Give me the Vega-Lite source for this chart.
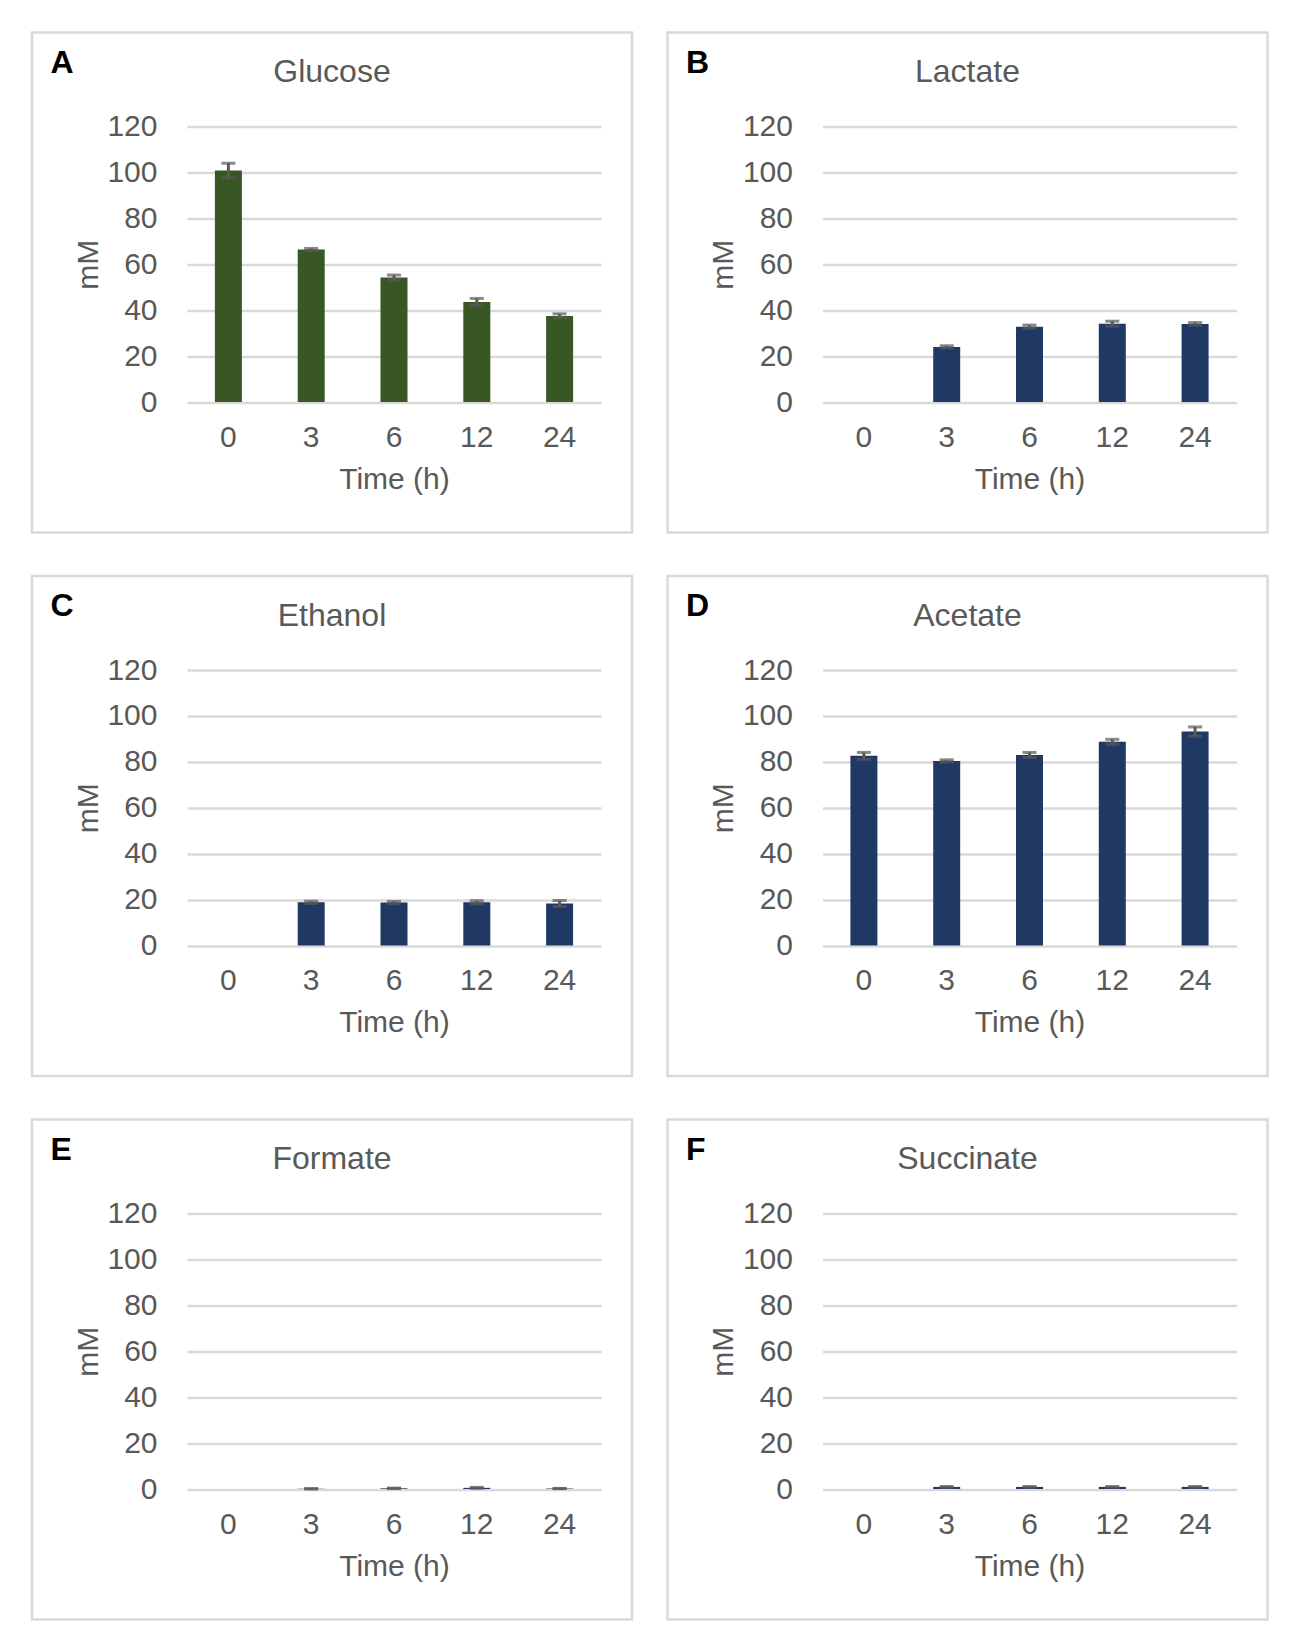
{
  "$schema": "https://vega.github.io/schema/vega-lite/v6.json",
  "background": "white",
  "padding": {"left": 30, "top": 30.5, "right": 0, "bottom": 0},
  "datasets": {
    "metabolites": [
      {"compound": "Glucose", "time": "0", "mean": 100.8, "sd": 3.2},
      {"compound": "Glucose", "time": "3", "mean": 66.4, "sd": 0.5},
      {"compound": "Glucose", "time": "6", "mean": 54.2, "sd": 1.1},
      {"compound": "Glucose", "time": "12", "mean": 43.6, "sd": 1.5},
      {"compound": "Glucose", "time": "24", "mean": 37.5, "sd": 0.9},
      {"compound": "Lactate", "time": "3", "mean": 24.0, "sd": 0.5},
      {"compound": "Lactate", "time": "6", "mean": 32.8, "sd": 0.7},
      {"compound": "Lactate", "time": "12", "mean": 34.1, "sd": 1.1},
      {"compound": "Lactate", "time": "24", "mean": 34.0, "sd": 0.6},
      {"compound": "Ethanol", "time": "3", "mean": 18.8, "sd": 0.5},
      {"compound": "Ethanol", "time": "6", "mean": 18.7, "sd": 0.5},
      {"compound": "Ethanol", "time": "12", "mean": 18.8, "sd": 0.7},
      {"compound": "Ethanol", "time": "24", "mean": 18.3, "sd": 1.3},
      {"compound": "Acetate", "time": "0", "mean": 82.6, "sd": 1.5},
      {"compound": "Acetate", "time": "3", "mean": 80.4, "sd": 0.5},
      {"compound": "Acetate", "time": "6", "mean": 83.0, "sd": 1.1},
      {"compound": "Acetate", "time": "12", "mean": 88.7, "sd": 1.1},
      {"compound": "Acetate", "time": "24", "mean": 93.2, "sd": 2.0},
      {"compound": "Formate", "time": "3", "mean": 0.1, "sd": 0.05},
      {"compound": "Formate", "time": "6", "mean": 0.3, "sd": 0.1},
      {"compound": "Formate", "time": "12", "mean": 0.5, "sd": 0.2},
      {"compound": "Formate", "time": "24", "mean": 0.2, "sd": 0.05},
      {"compound": "Succinate", "time": "3", "mean": 0.9, "sd": 0.2},
      {"compound": "Succinate", "time": "6", "mean": 0.9, "sd": 0.2},
      {"compound": "Succinate", "time": "12", "mean": 0.9, "sd": 0.2},
      {"compound": "Succinate", "time": "24", "mean": 0.9, "sd": 0.2}
    ]
  },
  "data": {"name": "metabolites"},
  "columns": 2,
  "spacing": {"row": 39.5, "column": 31.5},
  "concat": [
    {
      "width": 600, "height": 500,
      "title": {"text": "Glucose"},
      "transform": [{"filter": "datum.compound === 'Glucose'"}],
      "encoding": {
        "x": {"field": "time", "type": "ordinal", "scale": {"domain": ["0", "3", "6", "12", "24"], "range": [155, 569], "paddingInner": 0.674, "paddingOuter": 0.337}}
      },
      "layer": [
        {"mark": {"type": "bar", "color": "#385723"},
         "encoding": {"x": {"field": "time", "type": "ordinal", "axis": {"orient": "bottom", "title": "Time (h)"}},
                      "y": {"field": "mean", "type": "quantitative", "scale": {"domain": [0, 120], "range": [369.5, 94], "nice": false}, "axis": {"title": "mM", "values": [0, 20, 40, 60, 80, 100, 120]}}}},
        {"mark": {"type": "errorbar", "color": "#595959", "thickness": 3, "size": 14, "ticks": true},
         "encoding": {"x": {"field": "time", "type": "ordinal", "axis": {"orient": "top", "title": "A"}},
                      "y": {"field": "mean", "type": "quantitative", "axis": null},
                      "yError": {"field": "sd"}}}
      ],
      "resolve": {"axis": {"x": "independent", "y": "independent"}}
    },
    {
      "width": 600, "height": 500,
      "title": {"text": "Lactate"},
      "transform": [{"filter": "datum.compound === 'Lactate'"}],
      "encoding": {
        "x": {"field": "time", "type": "ordinal", "scale": {"domain": ["0", "3", "6", "12", "24"], "range": [155, 569], "paddingInner": 0.674, "paddingOuter": 0.337}}
      },
      "layer": [
        {"mark": {"type": "bar", "color": "#203864"},
         "encoding": {"x": {"field": "time", "type": "ordinal", "axis": {"orient": "bottom", "title": "Time (h)"}},
                      "y": {"field": "mean", "type": "quantitative", "scale": {"domain": [0, 120], "range": [369.5, 94], "nice": false}, "axis": {"title": "mM", "values": [0, 20, 40, 60, 80, 100, 120]}}}},
        {"mark": {"type": "errorbar", "color": "#595959", "thickness": 3, "size": 14, "ticks": true},
         "encoding": {"x": {"field": "time", "type": "ordinal", "axis": {"orient": "top", "title": "B"}},
                      "y": {"field": "mean", "type": "quantitative", "axis": null},
                      "yError": {"field": "sd"}}}
      ],
      "resolve": {"axis": {"x": "independent", "y": "independent"}}
    },
    {
      "width": 600, "height": 500,
      "title": {"text": "Ethanol"},
      "transform": [{"filter": "datum.compound === 'Ethanol'"}],
      "encoding": {
        "x": {"field": "time", "type": "ordinal", "scale": {"domain": ["0", "3", "6", "12", "24"], "range": [155, 569], "paddingInner": 0.674, "paddingOuter": 0.337}}
      },
      "layer": [
        {"mark": {"type": "bar", "color": "#203864"},
         "encoding": {"x": {"field": "time", "type": "ordinal", "axis": {"orient": "bottom", "title": "Time (h)"}},
                      "y": {"field": "mean", "type": "quantitative", "scale": {"domain": [0, 120], "range": [369.5, 94], "nice": false}, "axis": {"title": "mM", "values": [0, 20, 40, 60, 80, 100, 120]}}}},
        {"mark": {"type": "errorbar", "color": "#595959", "thickness": 3, "size": 14, "ticks": true},
         "encoding": {"x": {"field": "time", "type": "ordinal", "axis": {"orient": "top", "title": "C"}},
                      "y": {"field": "mean", "type": "quantitative", "axis": null},
                      "yError": {"field": "sd"}}}
      ],
      "resolve": {"axis": {"x": "independent", "y": "independent"}}
    },
    {
      "width": 600, "height": 500,
      "title": {"text": "Acetate"},
      "transform": [{"filter": "datum.compound === 'Acetate'"}],
      "encoding": {
        "x": {"field": "time", "type": "ordinal", "scale": {"domain": ["0", "3", "6", "12", "24"], "range": [155, 569], "paddingInner": 0.674, "paddingOuter": 0.337}}
      },
      "layer": [
        {"mark": {"type": "bar", "color": "#203864"},
         "encoding": {"x": {"field": "time", "type": "ordinal", "axis": {"orient": "bottom", "title": "Time (h)"}},
                      "y": {"field": "mean", "type": "quantitative", "scale": {"domain": [0, 120], "range": [369.5, 94], "nice": false}, "axis": {"title": "mM", "values": [0, 20, 40, 60, 80, 100, 120]}}}},
        {"mark": {"type": "errorbar", "color": "#595959", "thickness": 3, "size": 14, "ticks": true},
         "encoding": {"x": {"field": "time", "type": "ordinal", "axis": {"orient": "top", "title": "D"}},
                      "y": {"field": "mean", "type": "quantitative", "axis": null},
                      "yError": {"field": "sd"}}}
      ],
      "resolve": {"axis": {"x": "independent", "y": "independent"}}
    },
    {
      "width": 600, "height": 500,
      "title": {"text": "Formate"},
      "transform": [{"filter": "datum.compound === 'Formate'"}],
      "encoding": {
        "x": {"field": "time", "type": "ordinal", "scale": {"domain": ["0", "3", "6", "12", "24"], "range": [155, 569], "paddingInner": 0.674, "paddingOuter": 0.337}}
      },
      "layer": [
        {"mark": {"type": "bar", "color": "#203864"},
         "encoding": {"x": {"field": "time", "type": "ordinal", "axis": {"orient": "bottom", "title": "Time (h)"}},
                      "y": {"field": "mean", "type": "quantitative", "scale": {"domain": [0, 120], "range": [369.5, 94], "nice": false}, "axis": {"title": "mM", "values": [0, 20, 40, 60, 80, 100, 120]}}}},
        {"mark": {"type": "errorbar", "color": "#595959", "thickness": 3, "size": 14, "ticks": true},
         "encoding": {"x": {"field": "time", "type": "ordinal", "axis": {"orient": "top", "title": "E"}},
                      "y": {"field": "mean", "type": "quantitative", "axis": null},
                      "yError": {"field": "sd"}}}
      ],
      "resolve": {"axis": {"x": "independent", "y": "independent"}}
    },
    {
      "width": 600, "height": 500,
      "title": {"text": "Succinate"},
      "transform": [{"filter": "datum.compound === 'Succinate'"}],
      "encoding": {
        "x": {"field": "time", "type": "ordinal", "scale": {"domain": ["0", "3", "6", "12", "24"], "range": [155, 569], "paddingInner": 0.674, "paddingOuter": 0.337}}
      },
      "layer": [
        {"mark": {"type": "bar", "color": "#203864"},
         "encoding": {"x": {"field": "time", "type": "ordinal", "axis": {"orient": "bottom", "title": "Time (h)"}},
                      "y": {"field": "mean", "type": "quantitative", "scale": {"domain": [0, 120], "range": [369.5, 94], "nice": false}, "axis": {"title": "mM", "values": [0, 20, 40, 60, 80, 100, 120]}}}},
        {"mark": {"type": "errorbar", "color": "#595959", "thickness": 3, "size": 14, "ticks": true},
         "encoding": {"x": {"field": "time", "type": "ordinal", "axis": {"orient": "top", "title": "F"}},
                      "y": {"field": "mean", "type": "quantitative", "axis": null},
                      "yError": {"field": "sd"}}}
      ],
      "resolve": {"axis": {"x": "independent", "y": "independent"}}
    }
  ],
  "config": {
    "font": "Liberation Sans",
    "view": {"stroke": "#D9D9D9", "strokeWidth": 2.5},
    "title": {"fontSize": 32, "fontWeight": "normal", "color": "#595959", "anchor": "middle", "frame": "group", "offset": -56.5, "baseline": "alphabetic"},
    "axis": {"labelFontSize": 30, "labelColor": "#595959", "titleFontSize": 30, "titleColor": "#595959", "titleFontWeight": "normal", "domain": false, "ticks": false, "tickSize": 0, "labelAngle": 0},
    "axisY": {"grid": true, "gridColor": "#D9D9D9", "gridWidth": 2.5, "labelPadding": -125, "titleX": 56, "titleY": 231.75, "titleAngle": -90, "titleBaseline": "middle", "titleAlign": "center"},
    "axisBottom": {"grid": false, "offset": -130.5, "labelPadding": 20, "titlePadding": 12},
    "axisTop": {"grid": false, "labels": false, "titleX": 18, "titleY": 39.7, "titleAlign": "left", "titleBaseline": "alphabetic", "titleFontSize": 32, "titleFontWeight": "bold", "titleColor": "#000000", "titleAngle": 0}
  }
}
